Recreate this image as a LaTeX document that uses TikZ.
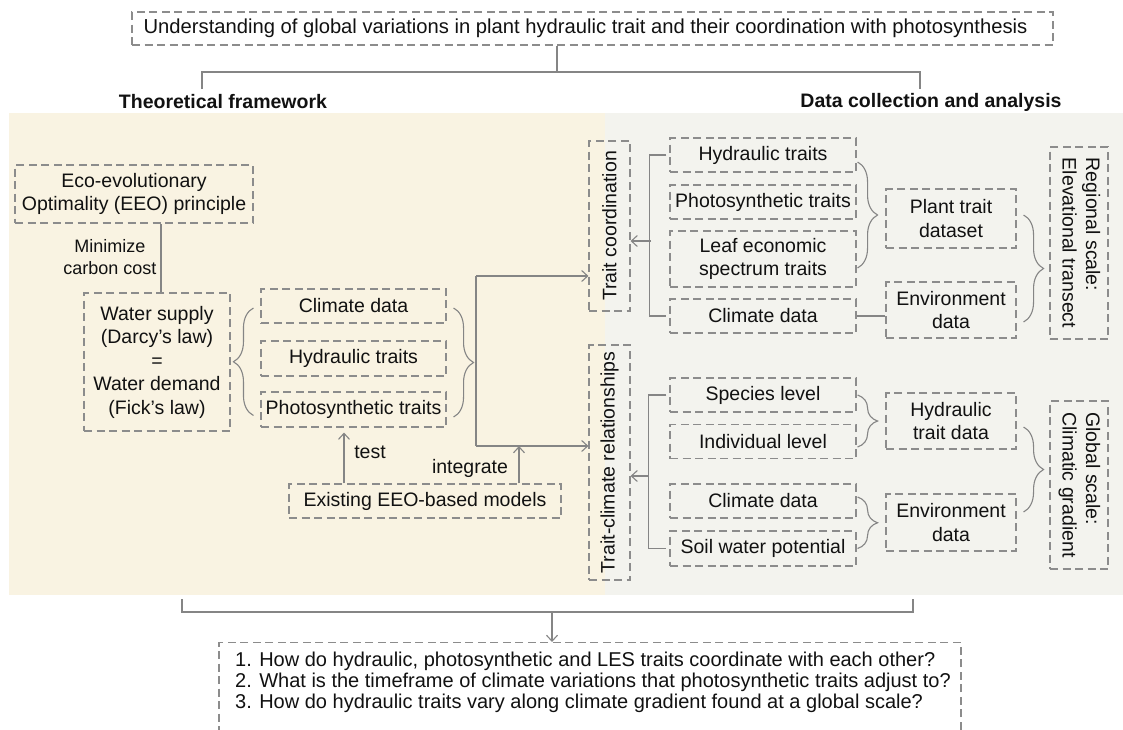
\documentclass[tikz,border=0pt]{standalone}
\usepackage{fontspec}
\usepackage{graphicx}
\setmainfont{Liberation Sans}
\usetikzlibrary{arrows.meta,decorations.pathreplacing,calc}
\definecolor{beigebg}{HTML}{F9F3E2}
\definecolor{graybg}{HTML}{F3F3EE}
\definecolor{linegray}{HTML}{858585}
\definecolor{dashgray}{HTML}{8C8C8C}
\definecolor{txt}{HTML}{111111}
\newcommand\myfs{\fontsize{19.5}{23.5}\selectfont}
\tikzset{
  box/.style={draw=dashgray, dash pattern=on 8pt off 4.5pt, line width=1.1pt, inner sep=0pt, align=center, text=txt, font=\myfs},
  lbl/.style={inner sep=0pt, align=center, text=txt, font=\myfs},
  conn/.style={draw=linegray, line width=1.1pt},
  arr/.style={conn, -{Straight Barb[length=6pt,width=11pt]}},
  brc/.style={conn, decorate, decoration={brace, amplitude=20pt}},
}
\begin{document}
\begin{tikzpicture}[x=1pt,y=-1pt]
\useasboundingbox (0,0) rectangle (1123,729);
\clip (0,0) rectangle (1123,729);
% backgrounds
\fill[beigebg] (9,113) rectangle (605,595);
\fill[graybg] (605,113) rectangle (1123,595);

% title and top bracket
\node[box, minimum width=921, minimum height=33, font=\fontsize{20.2}{24}\selectfont] (title) at (592.5,28.5) {Understanding of global variations in plant hydraulic trait and their coordination with photosynthesis\hspace*{14pt}};
\coordinate (tm) at (557,72);
\draw[conn] (title.south -| tm) -- (tm);
\draw[conn] (202,89) |- (920,72) -- (920,89);
\node[lbl, font=\bfseries\myfs] (theo) at (223,102) {Theoretical framework};
\node[lbl, font=\bfseries\myfs] (data) at (931,102) {Data collection and analysis};

% ---------- theoretical framework ----------
\node[box, minimum width=238, minimum height=58] (eeo) at (134,194) {Eco-evolutionary\\Optimality (EEO) principle};
\node[box, minimum width=146, minimum height=138] (water) at (157,362) {Water supply\\(Darcy’s law)\\=\\Water demand\\(Fick’s law)};
\draw[conn] ([xshift=4]water.north) -- ([xshift=4]water.north |- eeo.south);
\node[lbl, font=\fontsize{18}{22}\selectfont] (minc) at (110,257) {Minimize\\carbon cost};

\node[box, minimum width=185, minimum height=34] (clim1) at (353.5,306) {Climate data};
\node[box, minimum width=185, minimum height=35] (hyd1) at (353.5,358.5) {Hydraulic traits};
\node[box, minimum width=185, minimum height=35] (pho1) at (353.5,409.5) {Photosynthetic traits};
\draw[brc] ([shift={(-7,6)}]pho1.west) -- ([shift={(-7,2)}]clim1.west);
\draw[brc] ([shift={(7,2)}]clim1.east) -- ([shift={(7,7.5)}]pho1.east);

\node[box, minimum width=272, minimum height=34] (models) at (425,501) {Existing EEO-based models};

% ---------- data collection ----------
\node[box, minimum width=41, minimum height=170] (tc) at (609.5,226) {\rotatebox{90}{Trait coordination}};
\node[box, minimum width=41, minimum height=235] (tcr) at (609.5,462.5) {\rotatebox{90}{Trait-climate relationships}};

\node[box, minimum width=186, minimum height=34] (hyd2) at (763,155) {Hydraulic traits};
\node[box, minimum width=186, minimum height=34] (pho2) at (763,202) {Photosynthetic traits};
\node[box, minimum width=186, minimum height=56] (les) at (763,259) {Leaf economic\\spectrum traits};
\node[box, minimum width=186, minimum height=34] (clim2) at (763,316) {Climate data};

\node[box, minimum width=130, minimum height=59] (ptd) at (951,218.5) {Plant trait\\dataset};
\node[box, minimum width=130, minimum height=56] (env1) at (951,310) {Environment\\data};
\node[box, minimum width=58, minimum height=192] (reg) at (1079,243) {\rotatebox{-90}{\begin{tabular}{@{}l@{}}Regional scale:\\Elevational transect\end{tabular}}};

\node[box, minimum width=186, minimum height=34] (spec) at (763,395) {Species level};
\node[box, minimum width=186, minimum height=34] (ind) at (763,441.5) {Individual level};
\node[box, minimum width=186, minimum height=34] (clim3) at (763,501) {Climate data};
\node[box, minimum width=186, minimum height=35] (soil) at (763,548.5) {Soil water potential};

\node[box, minimum width=130, minimum height=56] (htd) at (951,421) {Hydraulic\\trait data};
\node[box, minimum width=130, minimum height=57] (env2) at (951,522.5) {Environment\\data};
\node[box, minimum width=58, minimum height=168] (glob) at (1079,485) {\rotatebox{-90}{\begin{tabular}{@{}l@{}}Global scale:\\Climatic gradient\end{tabular}}};

% connectors left panel
\coordinate (vj) at (476,276);
\coordinate (vb) at (476,446);
\draw[conn] (vj) -- (vb);
\draw[arr] (vj) -- (vj -| tc.west);
\draw[arr] (vb) -- (vb -| tcr.west);
\coordinate (tx) at (344,0);
\draw[arr, shorten >=5pt] (models.north -| tx) -- (pho1.south -| tx);
\node[lbl] (testl) at (370,452) {test};
\coordinate (ix) at (519,0);
\draw[arr] (models.north -| ix) -- (vb -| ix);
\node[lbl] (intl) at (470,468) {integrate};

% connectors right panel, upper
\draw[conn] ([xshift=-3]hyd2.west) -- ([xshift=-20]hyd2.west) |- ([xshift=-3]clim2.west);
\coordinate (b1m) at (651,241);
\draw[arr] (b1m) -- (b1m -| tc.east);
\draw[brc] ([shift={(1,7)}]hyd2.east) -- ([shift={(1,9)}]les.east);
\draw[conn] (clim2.east) -- (clim2.east -| env1.west);
\draw[brc] ([shift={(7,-3.5)}]ptd.east) -- ([shift={(7,12)}]env1.east);

% connectors right panel, lower
\draw[conn] ([xshift=-3]spec.west) -- ([xshift=-21]spec.west) |- ([xshift=-3]soil.west);
\coordinate (b2m) at (649,476);
\draw[arr] (b2m) -- (b2m -| tcr.east);
\draw[brc] ([xshift=1]spec.east) -- ([shift={(1,5.5)}]ind.east);
\draw[brc] ([shift={(1,-4)}]clim3.east) -- ([xshift=1]soil.east);
\draw[brc] ([shift={(7,6)}]htd.east) -- ([shift={(7,-10.5)}]env2.east);

% bottom bracket and questions
\draw[conn] (182,599) |- (913,612) -- (913,599);
\coordinate (bm) at (552,612);
\node[box, minimum width=742, minimum height=120, anchor=north] (q) at (590,642) {};
\draw[arr] (bm) -- (bm |- q.north);
\node[anchor=north west, align=left, inner sep=0pt, text=txt, font=\fontsize{20}{20.8}\selectfont] (qt) at (235,652) {1. How do hydraulic, photosynthetic and LES traits coordinate with each other?\\2. What is the timeframe of climate variations that photosynthetic traits adjust to?\\3. How do hydraulic traits vary along climate gradient found at a global scale?};
\end{tikzpicture}
\end{document}
